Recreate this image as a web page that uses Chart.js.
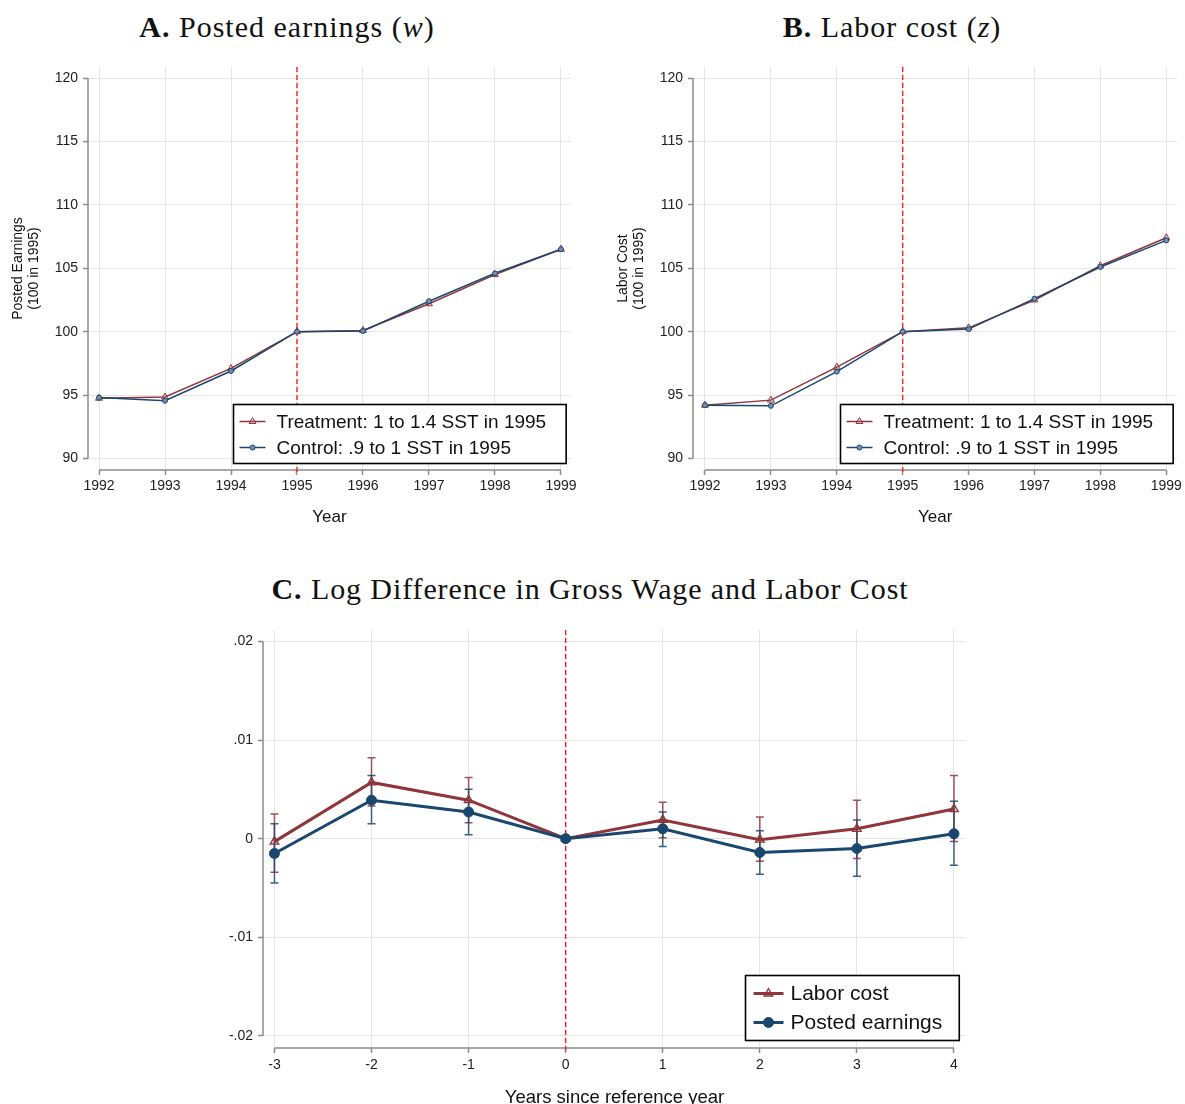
<!DOCTYPE html>
<html>
<head>
<meta charset="utf-8">
<title>Posted earnings and labor cost</title>
<script src="https://cdn.jsdelivr.net/npm/chart.js@4.4.1/dist/chart.umd.min.js"></script>
<style>
    html, body { margin: 0; padding: 0; background: #fff; }
    body { width: 1185px; height: 1104px; position: relative; overflow: hidden; }
    .panel-title {
        position: absolute;
        font-family: "Liberation Serif", "Times New Roman", serif;
        font-size: 30px;
        letter-spacing: 1px;
        line-height: 30px;
        color: #111;
        white-space: nowrap;
        transform: translateX(-50%);
    }
    canvas { position: absolute; }
</style>
</head>
<body>
<div class="panel-title" style="left:287px; top:12px;"><b>A.</b> Posted earnings (<i>w</i>)</div>
<div class="panel-title" style="left:892px; top:12px;"><b>B.</b> Labor cost (<i>z</i>)</div>
<div class="panel-title" style="left:590px; top:574px; letter-spacing:0.9px;"><b>C.</b> Log Difference in Gross Wage and Labor Cost</div>

<canvas id="chartA" width="590" height="470" style="left:0; top:60px;"></canvas>
<canvas id="chartB" width="580" height="470" style="left:605px; top:60px;"></canvas>
<canvas id="chartC" width="800" height="520" style="left:190px; top:610px;"></canvas>

<script>
// index series, 100 in 1995
const years = [1992, 1993, 1994, 1995, 1996, 1997, 1998, 1999];
const indexTicks = [90, 95, 100, 105, 110, 115, 120];
const earningsTreat = [94.75, 94.85, 97.1, 100, 100.1, 102.2, 104.5, 106.5];
const earningsControl = [94.8, 94.55, 96.9, 100, 100.05, 102.4, 104.6, 106.5];
const costTreat = [94.2, 94.6, 97.2, 100, 100.3, 102.5, 105.2, 107.4];
const costControl = [94.2, 94.15, 96.85, 100, 100.2, 102.6, 105.1, 107.2];

// event-study coefficients with confidence bounds (no bar at the reference year)
const eventTime = [-3, -2, -1, 0, 1, 2, 3, 4];
const diffTicks = [-0.02, -0.01, 0, 0.01, 0.02];
const diffTickLabels = ['-.02', '-.01', '0', '.01', '.02'];
const laborCoef = [-0.0003, 0.0057, 0.0039, 0, 0.0019, -0.0001, 0.001, 0.003];
const laborLow = [-0.0034, 0.0033, 0.0016, null, 0.0001, -0.0023, -0.002, -0.0003];
const laborHigh = [0.0025, 0.0082, 0.0062, null, 0.0037, 0.0022, 0.0039, 0.0064];
const earnCoef = [-0.0015, 0.0039, 0.0027, 0, 0.001, -0.0014, -0.001, 0.0005];
const earnLow = [-0.0045, 0.0015, 0.0004, null, -0.0008, -0.0036, -0.0038, -0.0027];
const earnHigh = [0.0015, 0.0064, 0.005, null, 0.0027, 0.0008, 0.0019, 0.0038];

const RED = '#90353b';
const NAVY = '#1a476f';
const REFLINE = '#ff1f1f';
const SANS = '"Liberation Sans", Arial, sans-serif';
const GRID = '#e6e6e6';
const AXIS = '#8c8c8c';

function pts(xs, ys) {
    return xs.map((x, i) => ({ x: x, y: ys[i] }));
}

function drawMarker(ctx, style, x, y, r, stroke, fill, lw) {
    ctx.save();
    ctx.beginPath();
    if (style === 'triangle') {
        ctx.moveTo(x, y - r);
        ctx.lineTo(x + r * 0.866, y + r * 0.5);
        ctx.lineTo(x - r * 0.866, y + r * 0.5);
        ctx.closePath();
    } else {
        ctx.arc(x, y, r, 0, Math.PI * 2);
    }
    ctx.fillStyle = fill;
    ctx.fill();
    ctx.lineWidth = lw;
    ctx.strokeStyle = stroke;
    ctx.stroke();
    ctx.restore();
}

// axis lines only over the tick range, and the dashed line at the reference year
function frame(refX) {
    return {
        id: 'frame',
        beforeDatasetsDraw(chart) {
            const { ctx, chartArea: a } = chart;
            const x = chart.scales.x, y = chart.scales.y;
            const xt = x.ticks, yt = y.ticks;
            ctx.save();
            ctx.strokeStyle = AXIS;
            ctx.lineWidth = 1.5;
            ctx.beginPath();
            ctx.moveTo(a.left, y.getPixelForValue(yt[0].value));
            ctx.lineTo(a.left, y.getPixelForValue(yt[yt.length - 1].value));
            ctx.moveTo(x.getPixelForValue(xt[0].value), a.bottom);
            ctx.lineTo(x.getPixelForValue(xt[xt.length - 1].value), a.bottom);
            ctx.stroke();
            ctx.restore();

            const rx = x.getPixelForValue(refX);
            ctx.save();
            ctx.strokeStyle = REFLINE;
            ctx.lineWidth = 1.4;
            ctx.setLineDash([5, 3]);
            ctx.beginPath();
            ctx.moveTo(rx, a.top);
            ctx.lineTo(rx, a.bottom + 3);
            ctx.stroke();
            ctx.restore();
        }
    };
}

// capped confidence intervals, one set per dataset
function errorBars(sets) {
    return {
        id: 'errorBars',
        beforeDatasetsDraw(chart) {
            const { ctx } = chart;
            const x = chart.scales.x, y = chart.scales.y;
            ctx.save();
            sets.forEach((s) => {
                ctx.strokeStyle = s.color;
                ctx.lineWidth = 1.5;
                ctx.beginPath();
                s.xs.forEach((xv, i) => {
                    if (s.low[i] === null) return;
                    const px = x.getPixelForValue(xv);
                    const lo = y.getPixelForValue(s.low[i]);
                    const hi = y.getPixelForValue(s.high[i]);
                    ctx.moveTo(px, lo);
                    ctx.lineTo(px, hi);
                    ctx.moveTo(px - 4, lo);
                    ctx.lineTo(px + 4, lo);
                    ctx.moveTo(px - 4, hi);
                    ctx.lineTo(px + 4, hi);
                });
                ctx.stroke();
            });
            ctx.restore();
        }
    };
}

// framed legend sitting in the lower right corner of the plot region
function boxLegend(o) {
    return {
        id: 'boxLegend',
        afterDatasetsDraw(chart) {
            const { ctx, chartArea: a } = chart;
            const sets = chart.data.datasets;
            ctx.save();
            ctx.font = `${o.size}px ${SANS}`;
            const textW = Math.max(...sets.map((d) => ctx.measureText(d.label).width));
            const w = o.padL + o.sample + o.gap + textW + o.padR;
            const h = o.padT + o.row * (sets.length - 1) + o.padB;
            const x0 = Math.round(a.right - o.insetR - w) + 0.5;
            const y0 = Math.round(a.bottom - o.insetB - h) + 0.5;
            ctx.fillStyle = '#fff';
            ctx.fillRect(x0, y0, w, h);
            ctx.strokeStyle = '#000';
            ctx.lineWidth = 1.6;
            ctx.strokeRect(x0, y0, w, h);
            sets.forEach((d, i) => {
                const cy = y0 + o.padT + i * o.row;
                const sx = x0 + o.padL;
                ctx.strokeStyle = d.borderColor;
                ctx.lineWidth = d.borderWidth;
                ctx.beginPath();
                ctx.moveTo(sx, cy);
                ctx.lineTo(sx + o.sample, cy);
                ctx.stroke();
                drawMarker(ctx, d.pointStyle, sx + o.sample / 2, cy, d.pointRadius,
                    d.pointBorderColor, d.pointBackgroundColor, d.pointBorderWidth);
                ctx.fillStyle = '#111';
                ctx.textBaseline = 'middle';
                ctx.textAlign = 'left';
                ctx.fillText(d.label, sx + o.sample + o.gap, cy + 1);
            });
            ctx.restore();
        }
    };
}

function axisFont(size) {
    return { family: SANS, size: size };
}

// the y axis keeps its own fixed width and adds no label overhang to the plot region
function fixedY(width) {
    return (s) => {
        s.width = width;
        s.paddingTop = 0;
        s.paddingBottom = 0;
    };
}

function yearChart(id, treat, control, yTitle, xRange, padRight, titlePad) {
    return new Chart(document.getElementById(id), {
        type: 'line',
        data: {
            datasets: [
                {
                    label: 'Treatment: 1 to 1.4 SST in 1995',
                    data: pts(years, treat),
                    borderColor: RED,
                    borderWidth: 1.5,
                    pointStyle: 'triangle',
                    pointRadius: 4,
                    pointBorderWidth: 1,
                    pointBorderColor: RED,
                    pointBackgroundColor: 'rgba(144,53,59,0.15)',
                    order: 2
                },
                {
                    label: 'Control: .9 to 1 SST in 1995',
                    data: pts(years, control),
                    borderColor: NAVY,
                    borderWidth: 1.5,
                    pointStyle: 'circle',
                    pointRadius: 2.5,
                    pointBorderWidth: 1,
                    pointBorderColor: NAVY,
                    pointBackgroundColor: '#7390ad',
                    order: 1
                }
            ]
        },
        options: {
            responsive: false,
            animation: false,
            devicePixelRatio: 1,
            layout: { padding: { left: 0, right: padRight, top: 7, bottom: 0 } },
            plugins: { legend: { display: false }, tooltip: { enabled: false } },
            elements: { line: { tension: 0 } },
            scales: {
                x: {
                    type: 'linear',
                    min: xRange[0],
                    max: xRange[1],
                    afterBuildTicks: (s) => { s.ticks = years.map((v) => ({ value: v })); },
                    afterFit: (s) => { s.height = 60; },
                    ticks: { callback: (v) => String(v), font: axisFont(14), color: '#222', padding: 3, maxRotation: 0, autoSkip: false },
                    grid: { color: GRID, lineWidth: 1, tickLength: 5, tickColor: AXIS, tickWidth: 1.5 },
                    border: { display: false },
                    title: { display: true, text: 'Year', font: axisFont(17), color: '#111', padding: { top: 0, bottom: 2 } }
                },
                y: {
                    min: 89.09,
                    max: 120.87,
                    afterBuildTicks: (s) => { s.ticks = indexTicks.map((v) => ({ value: v })); },
                    afterFit: fixedY(88),
                    ticks: { font: axisFont(14), color: '#222', padding: 5 },
                    grid: { color: GRID, lineWidth: 1, tickLength: 5, tickColor: AXIS, tickWidth: 1.5 },
                    border: { display: false },
                    title: {
                        display: true,
                        text: yTitle,
                        font: { family: SANS, size: 14, lineHeight: 1.15 },
                        color: '#111',
                        padding: { top: titlePad, bottom: 0 }
                    }
                }
            }
        },
        plugins: [
            frame(1995),
            boxLegend({ size: 19, padL: 6, sample: 26, gap: 11, padR: 20, padT: 17, row: 26, padB: 16, insetR: 5, insetB: 7 })
        ]
    });
}

yearChart('chartA', earningsTreat, earningsControl, ['Posted Earnings', '(100 in 1995)'], [1991.833, 1999.152], 19, 10);
yearChart('chartB', costTreat, costControl, ['Labor Cost', '(100 in 1995)'], [1991.818, 1999.167], 7, 10);

new Chart(document.getElementById('chartC'), {
    type: 'line',
    data: {
        datasets: [
            {
                label: 'Labor cost',
                data: pts(eventTime, laborCoef),
                borderColor: RED,
                borderWidth: 3,
                pointStyle: 'triangle',
                pointRadius: 5,
                pointBorderWidth: 1.3,
                pointBorderColor: RED,
                pointBackgroundColor: 'rgba(144,53,59,0.15)',
                order: 2
            },
            {
                label: 'Posted earnings',
                data: pts(eventTime, earnCoef),
                borderColor: NAVY,
                borderWidth: 3,
                pointStyle: 'circle',
                pointRadius: 5,
                pointBorderWidth: 1,
                pointBorderColor: NAVY,
                pointBackgroundColor: NAVY,
                order: 1
            }
        ]
    },
    options: {
        responsive: false,
        animation: false,
        devicePixelRatio: 1,
        layout: { padding: { left: 0, right: 24, top: 20, bottom: 0 } },
        plugins: { legend: { display: false }, tooltip: { enabled: false } },
        elements: { line: { tension: 0 } },
        scales: {
            x: {
                type: 'linear',
                min: -3.118,
                max: 4.124,
                afterBuildTicks: (s) => { s.ticks = eventTime.map((v) => ({ value: v })); },
                afterFit: (s) => { s.height = 82; },
                ticks: { callback: (v) => String(v), font: axisFont(14), color: '#222', padding: 4, maxRotation: 0, autoSkip: false },
                grid: { color: GRID, lineWidth: 1, tickLength: 5, tickColor: AXIS, tickWidth: 1.5 },
                border: { display: false },
                title: { display: true, text: 'Years since reference year', font: axisFont(18.5), color: '#111', padding: { top: 0, bottom: 21 } }
            },
            y: {
                min: -0.02122,
                max: 0.02115,
                afterBuildTicks: (s) => { s.ticks = diffTicks.map((v) => ({ value: v })); },
                afterFit: fixedY(73),
                ticks: { callback: (v, i) => diffTickLabels[i], font: axisFont(14), color: '#222', padding: 5 },
                grid: { color: GRID, lineWidth: 1, tickLength: 5, tickColor: AXIS, tickWidth: 1.5 },
                border: { display: false }
            }
        }
    },
    plugins: [
        frame(0),
        errorBars([
            { xs: eventTime, low: laborLow, high: laborHigh, color: 'rgba(144,53,59,0.85)' },
            { xs: eventTime, low: earnLow, high: earnHigh, color: 'rgba(26,71,111,0.85)' }
        ]),
        boxLegend({ size: 21, padL: 8, sample: 30, gap: 7, padR: 17, padT: 18, row: 29, padB: 18, insetR: 7, insetB: 8 })
    ]
});
</script>
</body>
</html>
